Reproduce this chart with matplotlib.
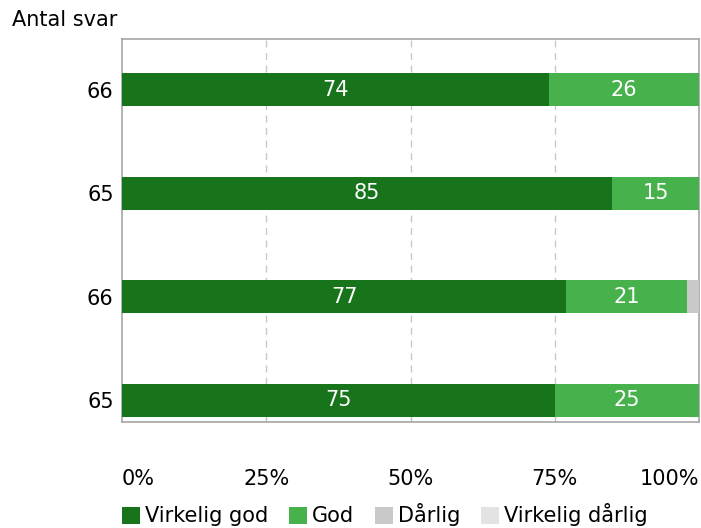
import matplotlib.pyplot as plt
import numpy as np

# Svarfordeling per rad (prosent)
antal_svar = ["66", "65", "66", "65"]
virkelig_god = [74, 85, 77, 75]
god = [26, 15, 21, 25]
darlig = [0, 0, 2, 0]
virkelig_darlig = [0, 0, 0, 0]

serier = ["Virkelig god", "God", "Dårlig", "Virkelig dårlig"]
farger = ["#17741a", "#47b14b", "#c9c9c9", "#e3e3e3"]
tekstfarger = ["white", "white", "black", "black"]
x_ticks = [0, 25, 50, 75, 100]
x_labels = ["0%", "25%", "50%", "75%", "100%"]

plt.rcParams["font.family"] = "DejaVu Sans"
fs = 15

fig = plt.figure(figsize=(7.01, 5.28), dpi=100)
ax = fig.add_axes([122 / 701, 1 - 422 / 528, 577 / 701, 383 / 528])

y = np.arange(len(antal_svar))
venstre = np.zeros(len(antal_svar))
for navn, verdier, farge, tf in zip(serier, [virkelig_god, god, darlig, virkelig_darlig], farger, tekstfarger):
    verdier = np.array(verdier, dtype=float)
    ax.barh(y, verdier, left=venstre, height=0.32, color=farge, label=navn, zorder=3)
    for yi, v, l in zip(y, verdier, venstre):
        if v >= 5:
            ax.text(l + v / 2, yi, f"{v:.0f}", ha="center", va="center",
                    color=tf, fontsize=fs, zorder=4)
    venstre += verdier

ax.set_xlim(0, 100)
ax.set_ylim(3.21, -0.49)

# stiplede hjelpelinjer
for xv in [25, 50, 75]:
    ax.axvline(xv, color="#c8c8c8", linestyle=(0, (5, 4)), linewidth=1.0, zorder=1)

for s in ax.spines.values():
    s.set_color("#a6a6a6")
    s.set_linewidth(1.2)

ax.set_yticks(y)
ax.set_yticklabels(antal_svar, fontsize=fs)
ax.tick_params(axis="y", length=0, pad=6)

ax.set_xticks([25, 50, 75])
ax.tick_params(axis="x", direction="in", length=4, color="#c0c0c0", labelbottom=False)

# prosentetiketter under rammen, første venstrejustert og siste høyrejustert
for xv, lab in zip(x_ticks, x_labels):
    ha = "left" if xv == 0 else ("right" if xv == 100 else "center")
    ax.text(xv, -0.148, lab, transform=ax.get_xaxis_transform(), ha=ha, va="center",
            fontsize=fs)

fig.text(12 / 701, 1 - 20 / 528, "Antal svar", ha="left", va="center", fontsize=fs)

leg = fig.legend(loc="center left", bbox_to_anchor=(118 / 701, 1 - 515 / 528), ncol=4,
                 frameon=False, fontsize=fs, handlelength=0.85, handleheight=0.85,
                 handletextpad=0.25, columnspacing=1.0, borderaxespad=0.0,
                 borderpad=0.2)

fig.savefig("out.png", dpi=100)
